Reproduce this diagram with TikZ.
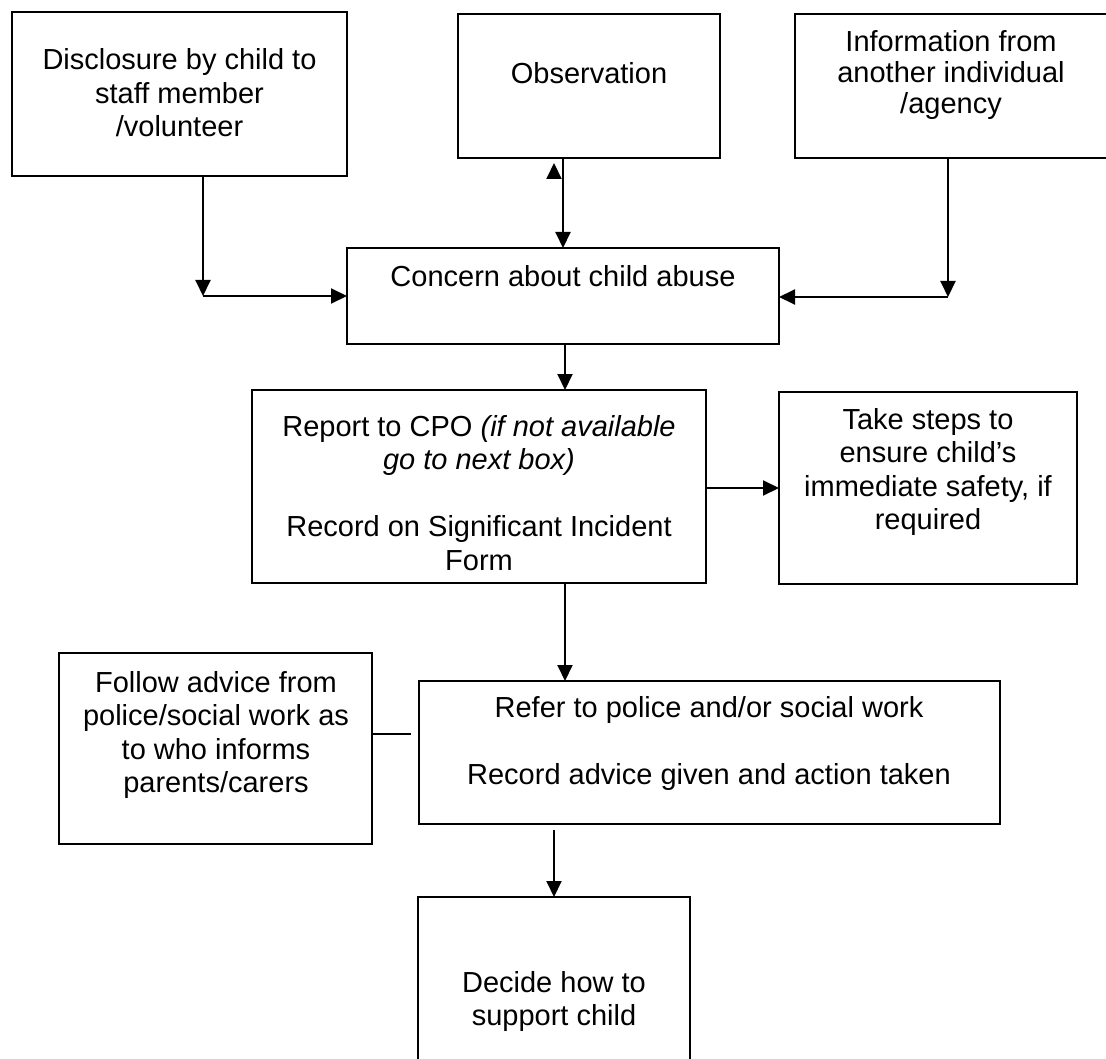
\documentclass[tikz,border=0pt]{standalone}
\usepackage{fontspec}
\setmainfont{Liberation Sans}
\usetikzlibrary{arrows.meta}
\tikzset{
  box/.style={draw, line width=1.6pt, inner sep=0pt, outer sep=0pt},
  txt/.style={anchor=base, align=center, inner sep=0pt, font=\fontsize{29}{33.5}\selectfont},
  arr/.style={line width=2pt, -{Triangle[length=16pt,width=15pt]}},
  ln/.style={line width=2pt},
}
\begin{document}
\begin{tikzpicture}[x=1pt,y=-1pt]
\useasboundingbox (0,0) rectangle (1106,1059);
\fill[white] (0,0) rectangle (1106,1059);
% boxes
\node[box, minimum width=335pt, minimum height=164pt] (b1) at (179.5,94) {};
\node[box, minimum width=262pt, minimum height=144pt] (b2) at (589,86) {};
\node[box, minimum width=320pt, minimum height=144pt] (b3) at (955,86) {};
\node[box, minimum width=432pt, minimum height=96pt] (b4) at (563,296) {};
\node[box, minimum width=454pt, minimum height=193pt] (b5) at (479,486.5) {};
\node[box, minimum width=298pt, minimum height=192pt] (b6) at (928,488) {};
\node[box, minimum width=581pt, minimum height=143pt] (b7) at (709.5,752.5) {};
\node[box, minimum width=313pt, minimum height=191pt] (b8) at (215.5,748.5) {};
\node[box, minimum width=272pt, minimum height=178pt] (b9) at (554,986) {};
% texts (anchor = baseline of the last line)
\node[txt] (t1) at (179.5,137) {Disclosure by child to\\staff member\\/volunteer};
\node[txt] (t2) at (589,84) {Observation};
\node[txt, font=\fontsize{29}{31}\selectfont] (t3) at (951,114) {Information from\\another individual\\/agency};
\node[txt] (t4) at (563,287) {Concern about child abuse};
\node[txt] (t5) at (479,570) {Report to CPO \textit{(if not available}\\\textit{go to next box)}\\[33.5pt]Record on Significant Incident\\Form};
\node[txt] (t6) at (928,529.5) {Take steps to\\ensure child’s\\immediate safety, if\\required};
\node[txt] (t7) at (709,784) {Refer to police and/or social work\\[33.5pt]Record advice given and action taken};
\node[txt] (t8) at (216,792.5) {Follow advice from\\police/social work as\\to who informs\\parents/carers};
\node[txt] (t9) at (554,1025.5) {Decide how to\\support child};
% connectors
\coordinate (j1) at (203,296);
\draw[arr] (b1.south -| j1) -- (j1);
\draw[arr] (j1) -- (b4.west |- j1);
\coordinate (j3) at (948,297);
\draw[arr] (b3.south -| j3) -- (j3);
\draw[arr] (j3) -- (b4.east |- j3);
\coordinate (o1) at (563,200);
\draw[arr] (b2.south -| o1) -- (b4.north -| o1);
\coordinate (u1) at (554,179);
\coordinate (u2) at (554,163);
\draw[arr] (u1) -- (u2);
\coordinate (c45) at (565,400);
\draw[arr] (b4.south -| c45) -- (b5.north -| c45);
\coordinate (c56) at (740,488);
\draw[arr] (b5.east |- c56) -- (b6.west |- c56);
\draw[arr] (b5.south -| c45) -- (b7.north -| c45);
\coordinate (e87) at (411,734);
\draw[ln] (b8.east |- e87) -- (e87);
\coordinate (c79) at (554,830);
\draw[arr] (c79) -- (b9.north -| c79);
\end{tikzpicture}
\end{document}
